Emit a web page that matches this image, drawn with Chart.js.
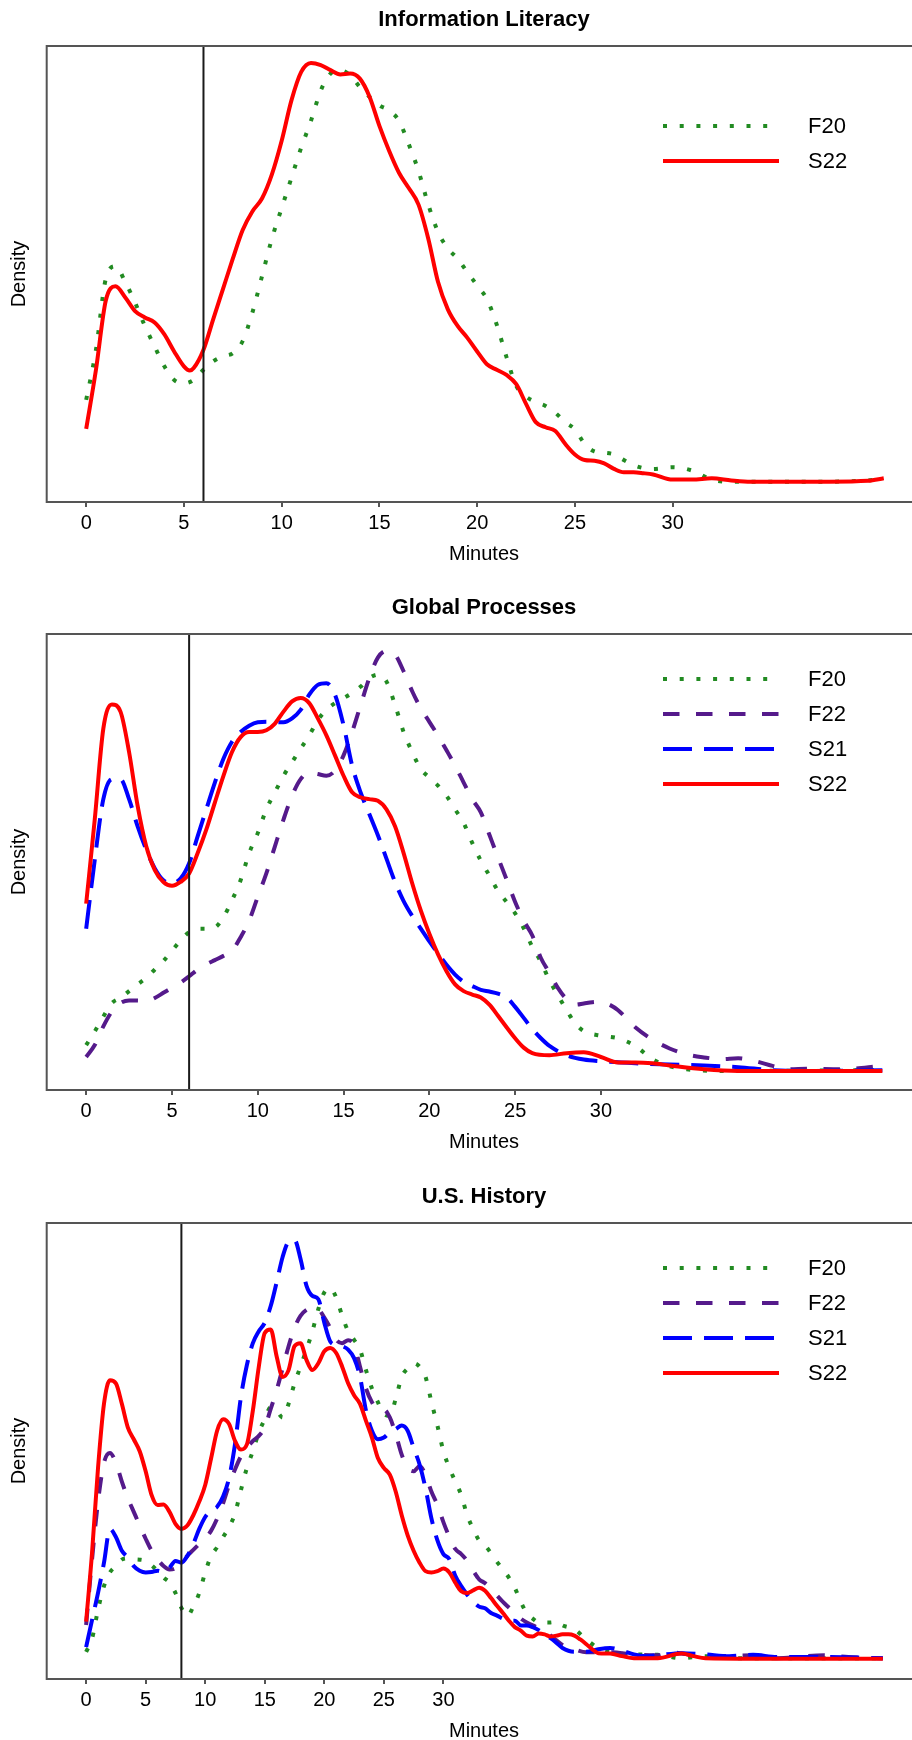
<!DOCTYPE html>
<html>
<head>
<meta charset="utf-8">
<script src="https://cdn.jsdelivr.net/npm/chart.js@4.4.1/dist/chart.umd.min.js"></script>
<style>
  html, body { margin: 0; padding: 0; background: #fff; overflow: hidden; }
  #page { position: relative; width: 912px; height: 1740px; overflow: hidden; background: #fff; }
  #page canvas { position: absolute; left: 0; }
</style>
</head>
<body>
<div id="page">
  <canvas id="ilChart" width="940" height="566" style="top:0px"></canvas>
  <canvas id="gpChart" width="940" height="566" style="top:588px"></canvas>
  <canvas id="usChart" width="940" height="566" style="top:1177px"></canvas>
</div>
<script>
// labelled ticks on every x axis
const minuteTicks = [0, 5, 10, 15, 20, 25, 30];

// ---- Information Literacy ----
const ilCutoff = 6;
const ilF20Min = [0,0.5,1,1.5,2,2.5,3,3.5,4,4.5,5,5.5,6,6.5,7,7.5,8,8.5,9,9.5,10,10.5,11,11.5,12,12.5,13,13.5,14,14.5,
  15,15.5,16,16.5,17,17.5,18,18.5,19,19.5,20,20.5,21,21.5,22,22.5,23,23.5,24,24.5,25,25.5,26,26.5,27,27.5,28,28.5,29,
  30,31,32,33,35,38,40.8];
const ilF20Dens = [0.0200,0.0318,0.0484,0.0514,0.0477,0.0429,0.0374,0.0326,0.0279,0.0247,
  0.0239,0.0247,0.0271,0.0291,0.0303,0.0310,0.0338,0.0405,0.0492,0.0579,
  0.0651,0.0722,0.0793,0.0856,0.0927,0.0967,0.0975,0.0963,0.0935,0.0912,
  0.0892,0.0880,0.0856,0.0801,0.0738,0.0659,0.0595,0.0556,0.0532,0.0500,
  0.0469,0.0437,0.0377,0.0301,0.0233,0.0208,0.0195,0.0186,0.0170,0.0148,
  0.0131,0.0097,0.0079,0.0076,0.0072,0.0059,0.0047,0.0040,0.0038,
  0.0042,0.0034,0.0013,0.0008,0.0008,0.0008,0.0013];
const ilS22Min = [0,0.5,1,1.5,2,2.5,3,3.5,4,4.5,5,5.3,5.5,6,6.5,7,7.5,8,8.5,9,9.5,10,10.5,11,11.5,12,12.5,13,13.5,14,
  14.5,15,15.5,16,16.5,17,17.5,18,18.5,19,19.5,20,20.5,21,21.5,22,22.5,23,23.5,24,24.5,25,25.5,26,26.5,27,27.5,28,28.5,29,
  30,31,32,33,34,36,38,40,40.8];
const ilS22Dens = [0.0132,0.0271,0.0433,0.0467,0.0441,0.0409,0.0394,0.0382,0.0354,0.0314,
  0.0279,0.0269,0.0275,0.0318,0.0390,0.0461,0.0532,0.0599,0.0643,0.0674,
  0.0730,0.0809,0.0904,0.0971,0.0992,0.0987,0.0975,0.0965,0.0967,0.0955,
  0.0912,0.0844,0.0785,0.0734,0.0698,0.0659,0.0579,0.0477,0.0413,0.0374,
  0.0346,0.0314,0.0284,0.0271,0.0259,0.0237,0.0191,0.0148,0.0136,0.0127,
  0.0097,0.0072,0.0059,0.0057,0.0051,0.0038,0.0030,0.0030,0.0028,0.0025,
  0.0013,0.0013,0.0016,0.0011,0.0008,0.0008,0.0008,0.0010,0.0016];

// ---- Global Processes ----
const gpCutoff = 6;
const gpGrid = [0,0.5,1,1.5,2,2.5,3,3.5,4,4.5,5,5.5,6,6.5,7,7.5,8,8.5,9,9.5,10,10.5,11,11.5,12,12.5,13,13.5,14,14.5,
  15,15.5,16,16.5,17,17.5,18,18.5,19,19.5,20,20.5,21,21.5,22,22.5];
const gpF20Min = gpGrid.concat([23,23.5,24,24.5,25,25.5,26,26.5,27,27.5,28,28.5,29,30,31,32,33,34,35,37,46.4]);
const gpF20Dens = [0.0066,0.0098,0.0133,0.0165,0.0177,0.0193,0.0209,0.0224,0.0244,0.0264,
  0.0288,0.0312,0.0332,0.0340,0.0340,0.0343,0.0367,0.0407,0.0454,0.0518,
  0.0565,0.0621,0.0661,0.0700,0.0732,0.0764,0.0795,0.0831,0.0855,0.0871,
  0.0883,0.0895,0.0910,0.0930,0.0938,0.0922,0.0867,0.0803,0.0756,0.0716,
  0.0696,0.0677,0.0653,0.0621,0.0589,0.0542,
  0.0500,0.0465,0.0429,0.0403,0.0376,0.0341,0.0297,0.0262,0.0218,0.0183,0.0148,0.0117,0.0099,0.0088,0.0082,0.0064,0.0033,0.0016,0.0009,0.0005,0.0007];
const gpF22Min = gpGrid.concat([23,23.5,24,24.5,25,25.5,26,26.5,27,27.5,28,28.5,29,29.5,30,30.5,31,32,33,34,35,36,37,38,39,40,41,42,44,46.4]);
const gpF22Dens = [0.0038,0.0066,0.0110,0.0145,0.0165,0.0171,0.0171,0.0169,0.0177,0.0189,
  0.0201,0.0213,0.0228,0.0244,0.0256,0.0266,0.0276,0.0288,0.0320,0.0359,
  0.0415,0.0470,0.0534,0.0597,0.0653,0.0692,0.0708,0.0704,0.0700,0.0712,
  0.0748,0.0803,0.0867,0.0930,0.0978,0.0994,0.0986,0.0946,0.0899,0.0859,
  0.0827,0.0795,0.0760,0.0724,0.0684,0.0645,
  0.0614,0.0561,0.0508,0.0456,0.0403,0.0359,0.0324,0.0271,0.0236,0.0200,0.0174,0.0161,0.0164,0.0167,0.0168,
  0.0161,0.0148,0.0108,0.0079,0.0058,0.0044,0.0037,0.0033,0.0035,0.0028,0.0017,0.0009,0.0010,0.0009,0.0017];
const gpS21Min = gpGrid.concat([23,23.5,24,24.5,25,25.5,26,26.5,27,28,29,30,32,34,36,38,40,42,46.4]);
const gpS21Dens = [0.0340,0.0502,0.0645,0.0692,0.0692,0.0645,0.0581,0.0526,0.0482,0.0454,
  0.0447,0.0458,0.0494,0.0558,0.0621,0.0684,0.0740,0.0780,0.0803,0.0818,
  0.0826,0.0827,0.0826,0.0826,0.0835,0.0855,0.0891,0.0914,0.0918,0.0891,
  0.0819,0.0724,0.0660,0.0610,0.0560,0.0505,0.0450,0.0405,0.0370,0.0340,
  0.0310,0.0282,0.0255,0.0232,0.0215,0.0205,
  0.0196,0.0192,0.0187,0.0178,0.0156,0.0130,0.0104,0.0082,0.0064,0.0042,0.0032,0.0028,0.0023,0.0020,0.0018,0.0014,0.0007,0.0005,0.0007];
const gpS22Min = gpGrid.concat([23,23.5,24,24.5,25,25.5,26,27,28,29,30,31,32,33,34,36,38,42,46.4]);
const gpS22Dens = [0.0399,0.0597,0.0811,0.0868,0.0851,0.0756,0.0629,0.0534,0.0478,0.0450,
  0.0441,0.0450,0.0470,0.0518,0.0573,0.0637,0.0700,0.0756,0.0791,0.0803,
  0.0803,0.0807,0.0823,0.0851,0.0875,0.0883,0.0871,0.0835,0.0795,0.0748,
  0.0700,0.0661,0.0649,0.0645,0.0641,0.0621,0.0581,0.0518,0.0447,0.0383,
  0.0328,0.0280,0.0240,0.0209,0.0193,0.0185,
  0.0178,0.0161,0.0135,0.0108,0.0082,0.0060,0.0047,0.0042,0.0047,0.0049,0.0038,0.0025,0.0025,0.0023,0.0018,0.0009,0.0005,0.0005,0.0005];

// ---- U.S. History ----
const usCutoff = 8;
const usGrid = [0,0.5,1,1.5,2,2.5,3,3.5,4,4.5,5,5.5,6,6.5,7,7.5,8,8.5,9,9.5,10,10.5,11,11.5,12,12.5,13,13.5,14,14.5,
  15,15.5,16,16.5,17,17.5,18,18.5,19,19.5,20,20.5,21,21.5,22,22.5,23,23.5,24,24.5,25,25.5,26,26.5,27,27.5,28,28.5,29,29.5,
  30,30.5,31,31.5,32,32.5,33];
const usF20Min = usGrid.concat([33.5,34,34.5,35,35.5,36,36.5,37,37.5,38,39,39.5,40,41,42,43,44,46,48,50,52,55,66.9]);
const usF20Dens = [0.0024,0.0055,0.0123,0.0178,0.0210,0.0225,0.0240,0.0243,0.0241,0.0240,
  0.0237,0.0227,0.0213,0.0198,0.0186,0.0162,0.0127,0.0108,0.0130,0.0162,
  0.0210,0.0249,0.0269,0.0293,0.0316,0.0348,0.0403,0.0455,0.0494,0.0538,
  0.0569,0.0597,0.0589,0.0573,0.0605,0.0653,0.0692,0.0732,0.0775,0.0827,
  0.0866,0.0876,0.0854,0.0811,0.0775,0.0755,0.0732,0.0684,0.0641,0.0609,
  0.0581,0.0577,0.0617,0.0668,0.0688,0.0700,0.0692,0.0668,0.0609,0.0554,
  0.0494,0.0455,0.0423,0.0391,0.0344,0.0312,0.0285,
  0.0273,0.0255,0.0235,0.0217,0.0198,0.0174,0.0141,0.0115,0.0102,0.0093,0.0093,0.0095,0.0086,0.0077,0.0053,0.0033,0.0024,0.0018,0.0017,0.0009,0.0014,0.0009,0.0009];
const usF22Min = usGrid.concat([33.5,34,34.5,35,35.5,36,36.5,37,37.5,38,38.5,39,39.5,40,41,42,44,46,48,49,51,53,56,58,62,64,66.9]);
const usF22Dens = [0.0087,0.0241,0.0376,0.0467,0.0490,0.0467,0.0423,0.0384,0.0352,0.0320,
  0.0289,0.0261,0.0241,0.0225,0.0217,0.0220,0.0233,0.0249,0.0263,0.0277,
  0.0290,0.0308,0.0336,0.0372,0.0415,0.0451,0.0482,0.0502,0.0518,0.0530,
  0.0550,0.0593,0.0637,0.0688,0.0740,0.0783,0.0811,0.0825,0.0830,0.0827,
  0.0807,0.0783,0.0755,0.0747,0.0754,0.0743,0.0692,0.0641,0.0609,0.0591,
  0.0591,0.0573,0.0534,0.0486,0.0455,0.0447,0.0459,0.0439,0.0399,0.0368,
  0.0328,0.0293,0.0265,0.0253,0.0237,0.0214,0.0194,
  0.0185,0.0172,0.0156,0.0141,0.0128,0.0115,0.0102,0.0093,0.0086,0.0080,0.0074,0.0062,0.0051,0.0040,
  0.0030,0.0023,0.0023,0.0018,0.0016,0.0023,0.0017,0.0014,0.0016,0.0009,0.0016,0.0012,0.0009];
const usS21Min = usGrid.concat([33.5,34,34.5,35,35.5,36,36.5,37,37.5,38,38.5,39,39.5,40,41,42,43,44,45,46,47,48,50,52,54,56,58,62,66.9]);
const usS21Dens = [0.0035,0.0099,0.0162,0.0233,0.0312,0.0293,0.0261,0.0245,0.0225,0.0214,
  0.0210,0.0211,0.0214,0.0211,0.0221,0.0237,0.0233,0.0249,0.0277,0.0312,
  0.0340,0.0356,0.0364,0.0388,0.0431,0.0510,0.0621,0.0696,0.0747,0.0775,
  0.0795,0.0834,0.0890,0.0949,0.0985,0.0989,0.0945,0.0882,0.0858,0.0850,
  0.0795,0.0751,0.0743,0.0740,0.0732,0.0712,0.0668,0.0589,0.0542,0.0522,
  0.0526,0.0538,0.0546,0.0554,0.0542,0.0502,0.0463,0.0407,0.0336,0.0285,
  0.0253,0.0241,0.0202,0.0178,0.0158,0.0142,0.0130,
  0.0126,0.0115,0.0109,0.0102,0.0097,0.0097,0.0086,0.0086,0.0082,0.0075,0.0065,0.0056,0.0045,0.0033,
  0.0024,0.0024,0.0030,0.0033,0.0027,0.0018,0.0014,0.0016,0.0021,0.0018,0.0014,0.0017,0.0012,0.0012,0.0009];
const usS22Min = usGrid.concat([33.5,34,34.5,35,35.5,36,36.5,37,37.5,38,38.5,39,39.5,40,40.5,41,41.5,42,42.5,43,44,45,46,48,50,51,52,56,66.9]);
const usS22Dens = [0.0095,0.0257,0.0455,0.0605,0.0660,0.0653,0.0605,0.0550,0.0522,0.0494,
  0.0447,0.0391,0.0368,0.0369,0.0352,0.0324,0.0312,0.0320,0.0344,0.0376,
  0.0415,0.0478,0.0542,0.0569,0.0558,0.0518,0.0498,0.0510,0.0589,0.0692,
  0.0771,0.0779,0.0716,0.0668,0.0684,0.0740,0.0747,0.0708,0.0684,0.0700,
  0.0728,0.0736,0.0724,0.0692,0.0653,0.0625,0.0605,0.0565,0.0526,0.0478,
  0.0455,0.0439,0.0399,0.0344,0.0297,0.0261,0.0233,0.0213,0.0210,0.0213,
  0.0219,0.0210,0.0186,0.0166,0.0162,0.0168,0.0174,
  0.0167,0.0150,0.0132,0.0115,0.0097,0.0082,0.0074,0.0062,0.0060,0.0067,0.0065,0.0060,0.0062,0.0065,0.0065,
  0.0062,0.0053,0.0042,0.0030,0.0021,0.0020,0.0014,0.0009,0.0009,0.0020,0.0014,0.0009,0.0008,0.0008];

const fontFamily = '"Liberation Sans", Arial, Helvetica, sans-serif';
Chart.defaults.font.family = fontFamily;
Chart.defaults.color = '#000';

const seriesStyle = {
    F20: { color: '#228B22', dash: [4, 12.7], order: 4 },
    F22: { color: '#551A8B', dash: [16.5, 16.5], order: 3 },
    S21: { color: '#0000FF', dash: [29, 12], order: 2 },
    S22: { color: '#FF0000', dash: [], order: 1 }
};

// box round the plot region, like base R graphics
const framePlugin = {
    id: 'frame',
    afterDatasetsDraw(chart) {
        const { ctx, chartArea: a } = chart;
        ctx.save();
        ctx.strokeStyle = '#555';
        ctx.lineWidth = 2;
        ctx.strokeRect(a.left, a.top, a.right - a.left, a.bottom - a.top);
        ctx.restore();
    }
};

// legend drawn inside the plot with line samples
const curveLegend = {
    id: 'curveLegend',
    afterDraw(chart, args, opts) {
        const { ctx, chartArea } = chart;
        const items = chart.data.datasets.filter(d => d.label !== 'cutoff');
        items.forEach((d, i) => {
            const y = chartArea.top + opts.top + i * opts.gap;
            ctx.save();
            ctx.strokeStyle = d.borderColor;
            ctx.lineWidth = 4;
            ctx.lineCap = 'butt';
            ctx.setLineDash(d.borderDash || []);
            ctx.beginPath();
            ctx.moveTo(opts.x1, y);
            ctx.lineTo(opts.x2, y);
            ctx.stroke();
            ctx.setLineDash([]);
            ctx.fillStyle = '#000';
            ctx.font = '22px ' + fontFamily;
            ctx.textBaseline = 'middle';
            ctx.fillText(d.label, opts.textX, y + 1);
            ctx.restore();
        });
    }
};

const makePanel = (canvasId, title, series, cutoff, xMin, xMax, legendTop) => {
    const peak = Math.max(...series.flatMap(s => s.dens));
    const yMin = -0.04 * peak;
    const yMax = 1.04 * peak;

    const datasets = series.map(s => ({
        label: s.label,
        data: s.min.map((m, i) => ({ x: m, y: s.dens[i] })),
        borderColor: seriesStyle[s.label].color,
        borderDash: seriesStyle[s.label].dash,
        borderWidth: 4,
        borderCapStyle: 'butt',
        borderJoinStyle: 'round',
        pointRadius: 0,
        cubicInterpolationMode: 'monotone',
        fill: false,
        order: seriesStyle[s.label].order
    }));
    datasets.push({
        label: 'cutoff',
        data: [{ x: cutoff, y: yMin }, { x: cutoff, y: yMax }],
        borderColor: '#1a1a1a',
        borderWidth: 2,
        pointRadius: 0,
        order: 0
    });

    new Chart(document.getElementById(canvasId), {
        type: 'line',
        data: { datasets: datasets },
        options: {
            responsive: false,
            animation: false,
            devicePixelRatio: 1,
            layout: { padding: { left: 0, right: 18.7, top: 0, bottom: 0 } },
            plugins: {
                legend: { display: false },
                tooltip: { enabled: false },
                title: {
                    display: true,
                    text: title,
                    fullSize: false,
                    color: '#000',
                    font: { size: 22, weight: 'bold' },
                    padding: { top: 6.8, bottom: 12.8 }
                },
                curveLegend: { top: legendTop, gap: 35, x1: 663, x2: 779, textX: 808 }
            },
            scales: {
                x: {
                    type: 'linear',
                    min: xMin,
                    max: xMax,
                    afterBuildTicks: axis => { axis.ticks = minuteTicks.map(v => ({ value: v })); },
                    ticks: { font: { size: 20 }, color: '#000', padding: 4.5, maxRotation: 0, autoSkip: false },
                    grid: { display: true, drawOnChartArea: false, drawTicks: true, tickLength: 5, color: '#555', lineWidth: 2 },
                    border: { display: false },
                    title: { display: true, text: 'Minutes', color: '#000', font: { size: 20 }, padding: { top: 2, bottom: 0 } }
                },
                y: {
                    type: 'linear',
                    min: yMin,
                    max: yMax,
                    ticks: { display: false },
                    grid: { display: false, drawTicks: false, tickLength: 0 },
                    border: { display: false },
                    title: { display: true, text: 'Density', color: '#000', font: { size: 20 }, padding: { top: 7, bottom: 15.7 } }
                }
            }
        },
        plugins: [framePlugin, curveLegend]
    });
};

makePanel('ilChart', 'Information Literacy', [
    { label: 'F20', min: ilF20Min, dens: ilF20Dens },
    { label: 'S22', min: ilS22Min, dens: ilS22Dens }
], ilCutoff, -2.02, 42.72, 80);

makePanel('gpChart', 'Global Processes', [
    { label: 'F20', min: gpF20Min, dens: gpF20Dens },
    { label: 'F22', min: gpF22Min, dens: gpF22Dens },
    { label: 'S21', min: gpS21Min, dens: gpS21Dens },
    { label: 'S22', min: gpS22Min, dens: gpS22Dens }
], gpCutoff, -2.30, 48.67, 45);

makePanel('usChart', 'U.S. History', [
    { label: 'F20', min: usF20Min, dens: usF20Dens },
    { label: 'F22', min: usF22Min, dens: usF22Dens },
    { label: 'S21', min: usS21Min, dens: usS21Dens },
    { label: 'S22', min: usS22Min, dens: usS22Dens }
], usCutoff, -3.31, 70.13, 45);
</script>
</body>
</html>
